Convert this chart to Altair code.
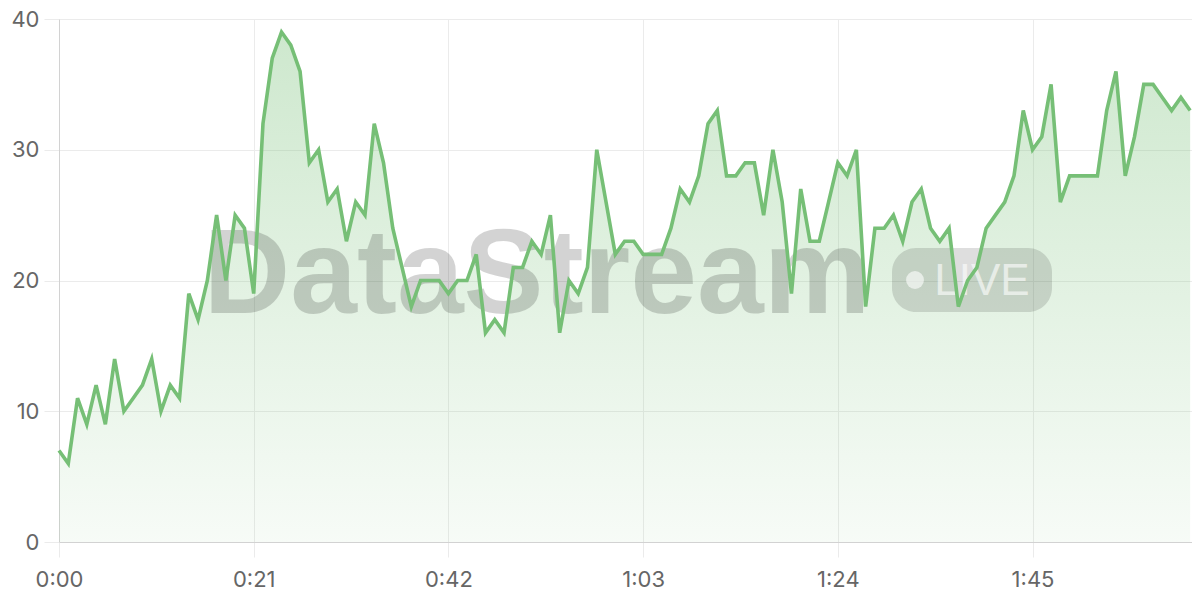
import altair as alt
import pandas as pd

# seconds since start (one sample per second)
values = [7, 6, 11, 9, 12, 9, 14, 10, 11, 12,
          14, 10, 12, 11, 19, 17, 20, 25, 20, 25,
          24, 19, 32, 37, 39, 38, 36, 29, 30, 26,
          27, 23, 26, 25, 32, 29, 24, 21, 18, 20,
          20, 20, 19, 20, 20, 22, 16, 17, 16, 21,
          21, 23, 22, 25, 16, 20, 19, 21, 30, 26,
          22, 23, 23, 22, 22, 22, 24, 27, 26, 28,
          32, 33, 28, 28, 29, 29, 25, 30, 26, 19,
          27, 23, 23, 26, 29, 28, 30, 18, 24, 24,
          25, 23, 26, 27, 24, 23, 24, 18, 20, 21,
          24, 25, 26, 28, 33, 30, 31, 35, 26, 28,
          28, 28, 28, 33, 36, 28, 31, 35, 35, 34,
          33, 34, 33]
seconds = list(range(len(values)))
x_ticks = [0, 21, 42, 63, 84, 105]
y_ticks = [0, 10, 20, 30, 40]
watermark = ["DataStream"]
badge = ["LIVE"]

df = pd.DataFrame({"t": seconds, "v": values})

W, H = 1133, 523
LINE = "#76bf76"
FONT = "Inter"

x_enc = alt.X(
    "t:Q",
    scale=alt.Scale(domain=[0, 122.2], nice=False, zero=False),
    axis=alt.Axis(
        values=x_ticks,
        labelExpr="floor(datum.value/60) + ':' + (datum.value%60 < 10 ? '0' : '') + (datum.value%60)",
        title=None,
        grid=True,
        gridColor="#ebebeb",
        tickColor="#ebebeb",
        tickSize=15,
        domainColor="#d2d2d2",
        labelPadding=12,
        labelFontSize=22,
        labelColor="#666666",
        labelFont=FONT,
        labelFlush=False,
        labelOverlap=False,
    ),
)
y_enc = alt.Y(
    "v:Q",
    scale=alt.Scale(domain=[0, 40], nice=False),
    axis=alt.Axis(
        values=y_ticks,
        title=None,
        grid=True,
        gridColor="#ebebeb",
        tickColor="#ebebeb",
        tickSize=15,
        domainColor="#d2d2d2",
        labelPadding=5,
        labelFontSize=22,
        labelColor="#666666",
        labelFont=FONT,
        labelFlush=False,
        labelOverlap=False,
    ),
)

base = alt.Chart(df)

area = base.mark_area(
    color=alt.Gradient(
        gradient="linear",
        stops=[
            alt.GradientStop(color="rgba(118,191,118,0.36)", offset=0),
            alt.GradientStop(color="rgba(118,191,118,0.06)", offset=1),
        ],
        x1=0, x2=0, y1=0, y2=1,
    ),
).encode(x=x_enc, y=y_enc)

line = base.mark_line(color=LINE, strokeWidth=3.6).encode(x="t:Q", y="v:Q")

wm = alt.Chart(pd.DataFrame({"w": watermark})).mark_text(
    font="Liberation Sans", fontWeight="bold", fontSize=120,
    color="#000000", opacity=0.17, align="center", baseline="alphabetic",
).encode(x=alt.value(478), y=alt.value(294), text="w:N")

pill = alt.Chart(pd.DataFrame({"w": badge})).mark_rect(
    color="#000000", opacity=0.13, cornerRadius=24,
).encode(x=alt.value(833), x2=alt.value(993), y=alt.value(229), y2=alt.value(293))

dot = alt.Chart(pd.DataFrame({"w": badge})).mark_circle(
    color="#ffffff", opacity=0.6, size=320,
).encode(x=alt.value(856), y=alt.value(261))

live = alt.Chart(pd.DataFrame({"w": badge})).mark_text(
    font="Liberation Sans", fontSize=44, color="#ffffff", opacity=0.6,
    align="center", baseline="alphabetic",
).encode(x=alt.value(923), y=alt.value(276), text="w:N")

chart = alt.layer(area, wm, pill, dot, live, line).properties(
    width=W,
    height=H,
    autosize=alt.AutoSizeParams(type="none"),
    padding={"left": 51, "top": 11, "right": 0, "bottom": 50},
    background="#ffffff",
).configure_view(stroke=None)

chart.save("out.html", embed_options={"renderer": "svg", "actions": False})
